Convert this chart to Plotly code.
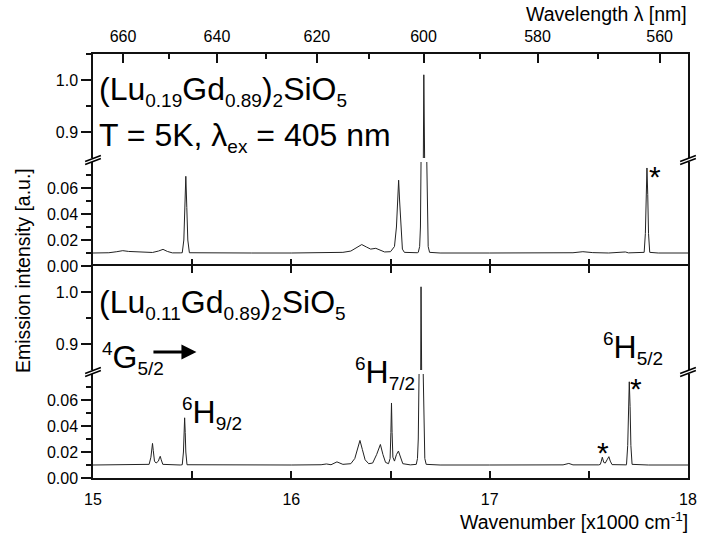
import plotly.graph_objects as go

# ---------------- data ----------------
# Sample (Lu0.19Gd0.89)2SiO5 : wavenumber [x1000 cm^-1], intensity [a.u.]
wn_top = [15.00, 15.08, 15.12, 15.15, 15.18, 15.25, 15.30, 15.33, 15.353, 15.375, 15.40, 15.44,
          15.450, 15.458, 15.463, 15.468, 15.473, 15.478, 15.486,
          15.60, 15.80, 16.00, 16.20, 16.26, 16.30, 16.33, 16.355, 16.38, 16.40, 16.426, 16.45, 16.47,
          16.50, 16.52, 16.530, 16.536, 16.541, 16.546, 16.552, 16.560, 16.57, 16.60, 16.635,
          16.640, 16.647, 16.651, 16.654, 16.664, 16.668, 16.672, 16.683, 16.686, 16.690, 16.697,
          16.75, 17.00, 17.30, 17.42, 17.47, 17.52, 17.60, 17.66, 17.684, 17.70, 17.77,
          17.779, 17.785, 17.789, 17.793, 17.797, 17.801, 17.807, 17.85, 18.00]
int_top = [0.0100, 0.0102, 0.0110, 0.0118, 0.0112, 0.0105, 0.0104, 0.0115, 0.0128, 0.0112, 0.0101, 0.0101,
           0.0102, 0.020, 0.045, 0.069, 0.045, 0.020, 0.0102,
           0.0100, 0.0100, 0.0100, 0.0102, 0.0105, 0.0115, 0.0145, 0.0165, 0.0145, 0.0130, 0.0136, 0.0118, 0.0108,
           0.0110, 0.0150, 0.030, 0.050, 0.066, 0.050, 0.030, 0.013, 0.0105, 0.0101, 0.0102,
           0.0105, 0.015, 0.030, 0.080, 0.85, 1.01, 0.85, 0.080, 0.030, 0.015, 0.0105,
           0.0100, 0.0100, 0.0100, 0.0102, 0.0110, 0.0103, 0.0100, 0.0102, 0.0108, 0.0101, 0.0101,
           0.0105, 0.025, 0.055, 0.0754, 0.055, 0.025, 0.0105, 0.0100, 0.0100]

# Sample (Lu0.11Gd0.89)2SiO5
wn_bot = [15.00, 15.10, 15.15, 15.20, 15.26,
          15.283, 15.292, 15.297, 15.300, 15.304, 15.310, 15.318,
          15.330, 15.335, 15.339, 15.344, 15.352, 15.44,
          15.450, 15.456, 15.459, 15.462, 15.465, 15.468, 15.474,
          15.70, 16.00, 16.15, 16.177, 16.20, 16.230, 16.26, 16.30, 16.32, 16.333, 16.346, 16.358, 16.372,
          16.39, 16.41, 16.43, 16.449, 16.462, 16.475, 16.490, 16.498, 16.502, 16.505, 16.508, 16.512,
          16.520, 16.530, 16.540, 16.550, 16.562, 16.60, 16.625,
          16.630, 16.636, 16.640, 16.644, 16.651, 16.654, 16.657, 16.665, 16.669, 16.673, 16.680,
          16.75, 17.00, 17.10, 17.37, 17.399, 17.42, 17.55,
          17.558, 17.563, 17.568, 17.575, 17.583, 17.592, 17.601, 17.608, 17.617, 17.69,
          17.690, 17.696, 17.700, 17.704, 17.708, 17.712, 17.718, 17.80, 18.00]
int_bot = [0.0100, 0.0102, 0.0105, 0.0101, 0.0102,
           0.0105, 0.016, 0.023, 0.0266, 0.021, 0.013, 0.0115,
           0.013, 0.0155, 0.0167, 0.014, 0.0105, 0.0100,
           0.0102, 0.020, 0.035, 0.0463, 0.035, 0.020, 0.0102,
           0.0100, 0.0100, 0.0102, 0.0108, 0.0102, 0.0124, 0.0105, 0.0110, 0.015, 0.022, 0.0289, 0.022, 0.014,
           0.0110, 0.0115, 0.018, 0.0258, 0.018, 0.012, 0.0110, 0.015, 0.035, 0.0577, 0.035, 0.016,
           0.013, 0.018, 0.0207, 0.016, 0.0110, 0.0101, 0.0105,
           0.0105, 0.015, 0.030, 0.080, 0.85, 1.01, 0.85, 0.080, 0.030, 0.015, 0.0105,
           0.0100, 0.0100, 0.0100, 0.0101, 0.0112, 0.0101, 0.0101,
           0.0105, 0.013, 0.0160, 0.012, 0.0115, 0.014, 0.0164, 0.013, 0.0103, 0.0101,
           0.0105, 0.025, 0.055, 0.074, 0.055, 0.025, 0.0105, 0.0100, 0.0100]

x_major = [15, 16, 17, 18]
x_minor = [15.5, 16.5, 17.5]
wl_major = [660, 640, 620, 600, 580, 560]
wl_minor = [650, 630, 610, 590, 570]
low_ticks = [0.00, 0.02, 0.04, 0.06]
low_minor = [0.01, 0.03, 0.05, 0.07]
up_ticks = [0.9, 1.0]
up_minor = [0.95, 1.05]

# ---------------- layout helpers ----------------
W, H = 706, 535
ML, MR, MT, MB = 93, 9, 54, 57
PW, PH = W - ML - MR, H - MT - MB
FONT = "Liberation Sans, Arial, sans-serif"
LINE = "#111111"


def xp(px):
    return (px - ML) / PW


def yp(py):
    return (H - MB - py) / PH


dom_y1 = [0, yp(374)]
dom_y2 = [yp(370), yp(266)]
dom_y3 = [yp(266), yp(162)]
dom_y4 = [yp(158), 1]

fig = go.Figure()
segs = [("x", "y", wn_bot, int_bot), ("x2", "y2", wn_bot, int_bot),
        ("x3", "y3", wn_top, int_top), ("x4", "y4", wn_top, int_top)]
for xa, ya, xs, ys in segs:
    fig.add_trace(go.Scatter(x=xs, y=ys, mode="lines", xaxis=xa, yaxis=ya,
                             line=dict(color="#222222", width=1), showlegend=False,
                             hoverinfo="skip"))

tickfont = dict(family=FONT, size=16, color="black")
xminor = dict(tickvals=x_minor, ticklen=7, tickwidth=1.5, tickcolor=LINE, ticks="inside")
common_x = dict(range=[15, 18], showgrid=False, zeroline=False, showline=True,
                linecolor=LINE, linewidth=1.5, ticks="inside", tickcolor=LINE,
                tickwidth=1.5, ticklen=7, tickfont=tickfont, domain=[0, 1])

fig.update_layout(
    xaxis=dict(common_x, anchor="y", side="bottom", tickvals=x_major,
               ticktext=[str(v) for v in x_major], ticklabelstandoff=6, minor=xminor),
    xaxis2=dict(common_x, anchor="y2", side="top", tickvals=x_major, showticklabels=False,
                minor=xminor),
    xaxis3=dict(common_x, anchor="y3", side="bottom", tickvals=x_major, showticklabels=False,
                showline=False, minor=xminor),
    xaxis4=dict(common_x, anchor="y4", side="top",
                tickvals=[10000 / w for w in wl_major], ticktext=[str(w) for w in wl_major],
                ticklen=9, ticklabelstandoff=4,
                minor=dict(tickvals=[10000 / w for w in wl_minor], ticklen=5,
                           tickwidth=1.5, tickcolor=LINE, ticks="inside")),
)

common_y = dict(showgrid=False, zeroline=False, showline=True, mirror=True,
                linecolor=LINE, linewidth=1.5, ticks="outside", tickcolor=LINE,
                tickwidth=1.5, ticklen=10, tickfont=tickfont)
low_minor_d = dict(tickvals=low_minor, ticklen=5, tickwidth=1.5, tickcolor=LINE, ticks="outside")
up_minor_d = dict(tickvals=up_minor, ticklen=5, tickwidth=1.5, tickcolor=LINE, ticks="outside")
fig.update_layout(
    yaxis=dict(common_y, anchor="x", domain=dom_y1, range=[0, 0.08], tickvals=low_ticks,
               ticktext=[f"{v:.2f}" for v in low_ticks], minor=low_minor_d),
    yaxis2=dict(common_y, anchor="x2", domain=dom_y2, range=[0.85, 1.05], tickvals=up_ticks,
                ticktext=[f"{v:.1f}" for v in up_ticks], minor=up_minor_d),
    yaxis3=dict(common_y, anchor="x3", domain=dom_y3, range=[0, 0.08], tickvals=low_ticks,
                ticktext=[f"{v:.2f}" for v in low_ticks], minor=low_minor_d),
    yaxis4=dict(common_y, anchor="x4", domain=dom_y4, range=[0.85, 1.05], tickvals=up_ticks,
                ticktext=[f"{v:.1f}" for v in up_ticks], minor=up_minor_d),
)

# ---------------- texts ----------------
SUBS = 19


def sb(t):
    return f'<sub><span style="font-size:{SUBS}px">{t}</span></sub>'


def sp(t):
    return f'<sup><span style="font-size:19px">{t}</span></sup>'


big = dict(family=FONT, size=32, color="black")
ann = []


def add_text(text, px, py, font=big, xanchor="left", yanchor="middle", angle=0):
    ann.append(dict(text=text, x=xp(px), y=yp(py), xref="paper", yref="paper",
                    xanchor=xanchor, yanchor=yanchor, showarrow=False, font=font,
                    textangle=angle))


add_text(f"(Lu{sb('0.19')}Gd{sb('0.89')}){sb('2')}SiO{sb('5')}", 97, 91)
add_text(f"T = 5K, λ{sb('ex')} = 405 nm", 97, 137)
add_text(f"(Lu{sb('0.11')}Gd{sb('0.89')}){sb('2')}SiO{sb('5')}", 97, 304)
add_text(f"{sp('4')}G{sb('5/2')}", 100, 358)
add_text(f"{sp('6')}H{sb('9/2')}", 181, 413)
add_text(f"{sp('6')}H{sb('7/2')}", 357, 373)
add_text(f"{sp('6')}H{sb('5/2')}", 609, 348)
star = dict(family=FONT, size=30, color="black")
add_text("*", 664, 176, font=star, xanchor="center")
add_text("*", 644, 388, font=star, xanchor="center")
add_text("*", 611, 452, font=star, xanchor="center")

title_font = dict(family=FONT, size=19.5, color="black")
add_text("Wavenumber [x1000 cm<sup>-1</sup>]", 699, 521, font=title_font, xanchor="right")
add_text("Wavelength λ [nm]", 698, 14, font=title_font, xanchor="right")
add_text("Emission intensity [a.u.]", 22, 271, font=title_font, xanchor="center", angle=-90)

# arrow 4G5/2 ->
ann.append(dict(x=xp(198), y=yp(352), xref="paper", yref="paper", ax=-46, ay=0,
                axref="pixel", ayref="pixel", showarrow=True, arrowhead=2, arrowsize=1,
                arrowwidth=3, arrowcolor="black", text=" "))

# axis-break marks
shapes = []
for cy in (160, 372):
    for cx in (93, 697):
        for off in (-1.5, 1.5):
            shapes.append(dict(type="line", xref="paper", yref="paper",
                               x0=xp(cx - 8), y0=yp(cy + off + 3),
                               x1=xp(cx + 8), y1=yp(cy + off - 3),
                               line=dict(color="black", width=1.5)))

fig.update_layout(annotations=ann, shapes=shapes,
                  width=W, height=H, margin=dict(l=ML, r=MR, t=MT, b=MB),
                  paper_bgcolor="white", plot_bgcolor="white",
                  font=dict(family=FONT, color="black"), showlegend=False)

fig.write_html("out.html")
